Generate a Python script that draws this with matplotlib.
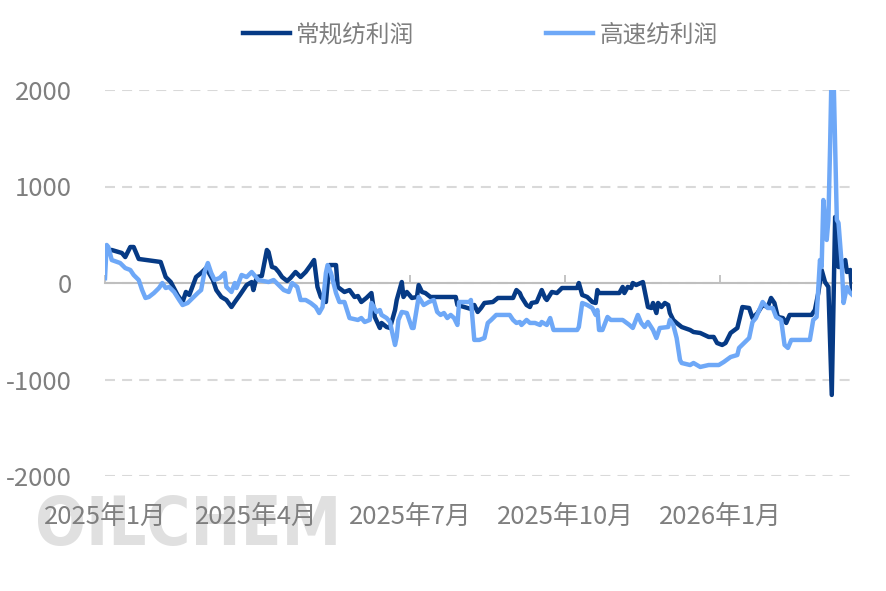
import numpy as np
import matplotlib
matplotlib.use('Agg')
import matplotlib.pyplot as plt
import matplotlib.dates as mdates

plt.rcParams['font.family'] = ['Noto Sans CJK SC', 'DejaVu Sans']
plt.rcParams['axes.unicode_minus'] = False

# days counted from 2025-01-01
start = np.datetime64('2025-01-01')

dark_days = [0, 4, 10, 12, 15, 17, 20, 33, 36, 39,
             43, 46, 48, 50, 54, 57, 60, 64, 66, 69,
             72, 75, 77, 80, 84, 87, 88, 90, 93, 96,
             97, 99, 101, 103, 105, 108, 110, 113, 116, 119,
             122, 124, 126, 128, 131, 133, 137, 138, 142, 145,
             148, 150, 152, 155, 158, 160, 163, 164, 167, 169,
             172, 173, 176, 177, 179, 182, 185, 186, 188, 190,
             193, 208, 209, 213, 217, 219, 221, 223, 225, 230,
             233, 242, 244, 246, 247, 250, 252, 253, 256, 259,
             261, 262, 265, 268, 271, 280, 281, 283, 286, 289,
             291, 292, 293, 305, 307, 308, 310, 312, 313, 315,
             319, 322, 324, 325, 327, 328, 330, 332, 334, 335,
             337, 339, 342, 347, 349, 353, 358, 361, 363, 366,
             368, 371, 375, 378, 382, 384, 387, 390, 393, 395,
             397, 399, 402, 404, 406, 419, 421, 423, 425, 427,
             429, 431, 433, 434, 435, 437, 439, 440, 442, 443]
dark_vals = [342, 342, 311, 269, 373, 373, 249, 218, 62, 10,
             -124, -197, -93, -124, 62, 104, 155, 31, -73, -145,
             -176, -249, -197, -124, -21, 10, -73, 62, 73, 342,
             321, 166, 155, 114, 62, 21, 52, 114, 62, 114,
             186, 238, -41, -145, -197, 186, 186, -41, -93, -73,
             -145, -135, -197, -155, -104, -352, -466, -414, -456, -466,
             -280, -176, 10, -145, -93, -155, -145, -21, -93, -104,
             -145, -145, -228, -249, -269, -228, -300, -259, -207, -197,
             -155, -155, -73, -104, -145, -228, -249, -207, -197, -73,
             -155, -176, -93, -104, -52, -52, 0, -124, -145, -197,
             -207, -73, -104, -104, -41, -104, -41, -52, 0, -21,
             10, -249, -259, -207, -311, -207, -249, -207, -228, -311,
             -383, -414, -456, -487, -508, -518, -559, -559, -622, -642,
             -622, -518, -466, -249, -259, -363, -311, -228, -249, -155,
             -207, -352, -363, -414, -331, -331, -280, -104, 135, 10,
             -41, -1160, 684, 580, 166, 166, 238, 114, 135, -73]

light_days = [0, 1, 2, 4, 9, 12, 15, 17, 20, 22,
              24, 26, 29, 32, 34, 36, 38, 41, 44, 46,
              49, 52, 55, 57, 59, 61, 63, 65, 68, 71,
              72, 75, 77, 78, 81, 84, 87, 90, 91, 97,
              100, 103, 106, 109, 111, 114, 116, 119, 122, 125,
              127, 129, 131, 132, 134, 137, 139, 142, 145, 150,
              152, 154, 157, 158, 161, 163, 164, 167, 169, 170,
              172, 173, 174, 176, 179, 180, 182, 183, 185, 186,
              189, 192, 195, 197, 199, 201, 203, 205, 207, 209,
              210, 216, 217, 219, 222, 225, 227, 229, 232, 240,
              242, 244, 246, 247, 250, 252, 255, 258, 259, 262,
              264, 266, 280, 281, 283, 286, 289, 291, 292, 293,
              295, 298, 300, 307, 311, 313, 316, 318, 320, 322,
              325, 327, 329, 334, 335, 337, 339, 341, 342, 347,
              349, 353, 358, 364, 367, 371, 375, 376, 379, 382,
              384, 386, 388, 390, 393, 396, 398, 401, 403, 405,
              407, 418, 420, 422, 424, 425, 426, 428, 429, 430,
              431, 432, 434, 435, 437, 438, 440, 442, 443]
light_vals = [50, 394, 373, 238, 207, 155, 135, 83, 31, -73,
              -155, -145, -104, -52, 0, -52, -41, -93, -176, -228,
              -207, -155, -104, -73, 114, 207, 104, 31, 52, 104,
              -41, -93, 0, -52, 83, 62, 114, 52, 31, 10,
              31, -21, -73, -93, 0, -41, -176, -176, -207, -249,
              -311, -249, 104, 186, 104, -104, -197, -197, -363, -383,
              -363, -404, -383, -207, -300, -280, -331, -363, -404, -487,
              -642, -559, -383, -300, -311, -363, -466, -466, -249, -145,
              -228, -197, -176, -300, -331, -311, -363, -331, -363, -435,
              -197, -197, -176, -590, -590, -570, -414, -383, -331, -331,
              -383, -414, -404, -435, -383, -414, -414, -435, -404, -435,
              -363, -487, -487, -456, -207, -228, -259, -331, -280, -487,
              -487, -352, -383, -383, -435, -466, -331, -414, -456, -404,
              -487, -570, -466, -456, -383, -435, -570, -798, -829, -850,
              -829, -870, -850, -850, -818, -767, -746, -673, -622, -570,
              -404, -363, -280, -197, -259, -259, -352, -383, -642, -673,
              -590, -590, -383, -352, 238, 166, 860, 446, 653, 1410,
              2300, 2200, 653, 622, 166, -207, -41, -104, -120]

tick_days = [0, 90, 181, 273, 365]
tick_labels = ['2025年1月', '2025年4月', '2025年7月', '2025年10月', '2026年1月']
y_ticks = [-2000, -1000, 0, 1000, 2000]

dark_x = start + np.array(dark_days).astype('timedelta64[D]')
light_x = start + np.array(light_days).astype('timedelta64[D]')
tick_x = start + np.array(tick_days).astype('timedelta64[D]')

grey = '#7f7f7f'
fig = plt.figure(figsize=(8.86, 5.91), dpi=100)
ax = fig.add_axes([105/886, 1 - 476/591, (852 - 105)/886, (476 - 90)/591])

ax.plot(dark_x, dark_vals, color='#063a85', lw=3.2, solid_joinstyle='round', label='常规纺利润')
ax.plot(light_x, light_vals, color='#6ea8f7', lw=3.2, solid_joinstyle='round', label='高速纺利润')

ax.set_ylim(-2000, 2000)
ax.set_yticks(y_ticks)
ax.set_xlim(start, dark_x[-1])
ax.set_xticks(tick_x)
ax.set_xticklabels(tick_labels)
ax.tick_params(axis='x', length=0, pad=20, labelsize=18.5, labelcolor=grey)
ax.tick_params(axis='y', length=0, pad=24, labelsize=18.5, labelcolor=grey)
for s in ax.spines.values():
    s.set_visible(False)
ax.yaxis.grid(True, color='#d9d9d9', lw=1.5, dashes=(4.8, 3.4))

# zero axis with the small tick marks
sec = ax.secondary_xaxis(0.5)
sec.set_xticks(mdates.date2num(tick_x))
sec.tick_params(axis='x', direction='out', length=6, width=1.3, color='#bfbfbf',
                labeltop=False, labelbottom=False)
for s in sec.spines.values():
    s.set_color('#bfbfbf')
    s.set_linewidth(1.5)
sec.set_zorder(1.8)

fig.legend(loc='center', bbox_to_anchor=(480/886, 1 - 35/591), ncol=2, frameon=False,
           fontsize=17, handlelength=2.0, handletextpad=0.25, columnspacing=5.6,
           labelcolor=grey)

# watermark
fig.text(35/886, 1 - 545/591, 'OILCHEM', family='DejaVu Sans', fontweight='bold',
         fontstretch='condensed', fontsize=48, color='#e0e0e0', va='baseline',
         ha='left', zorder=-1)

fig.savefig('out.png', dpi=100)
